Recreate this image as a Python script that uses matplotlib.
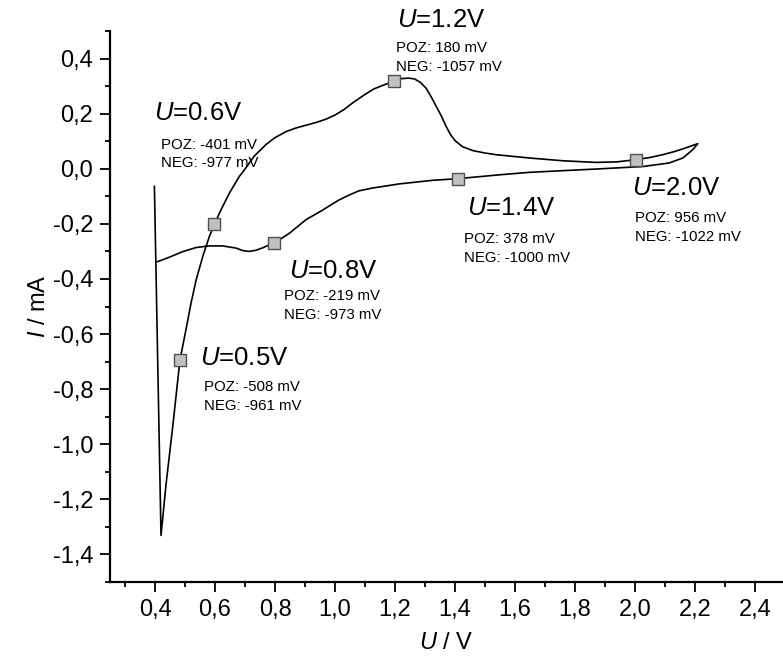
import numpy as np
import matplotlib.pyplot as plt
from matplotlib.ticker import FixedLocator, MultipleLocator, FuncFormatter

plt.rcParams['font.family'] = ['Liberation Sans', 'DejaVu Sans']
plt.rcParams['mathtext.fontset'] = 'custom'
plt.rcParams['mathtext.rm'] = 'Liberation Sans'
plt.rcParams['mathtext.it'] = 'Liberation Sans:italic'

# CV loop (U in V, I in mA)
u_curve = [0.398, 0.420, 0.437, 0.459, 0.483, 0.503, 0.520, 0.537, 0.559, 0.581,
           0.598, 0.620, 0.648, 0.681, 0.698, 0.730, 0.770, 0.800, 0.837, 0.870,
           0.900, 0.937, 0.970, 1.000, 1.030, 1.060, 1.100, 1.130, 1.160, 1.198,
           1.220, 1.245, 1.265, 1.285, 1.303, 1.320, 1.337, 1.355, 1.370, 1.385,
           1.400, 1.425, 1.459, 1.500, 1.537, 1.648, 1.759, 1.870, 1.940, 2.003,
           2.050, 2.092, 2.130, 2.159, 2.185, 2.209,
           2.192, 2.159, 2.114, 2.025, 1.870, 1.648, 1.548, 1.409, 1.325, 1.214,
           1.125, 1.080, 1.048, 1.014, 0.985, 0.959, 0.930, 0.903, 0.875, 0.848,
           0.820, 0.795, 0.775, 0.759, 0.736, 0.714, 0.692, 0.670, 0.625, 0.581,
           0.537, 0.492, 0.448, 0.409]
i_curve = [-0.064, -1.331, -1.143, -0.937, -0.695, -0.585, -0.488, -0.404, -0.319, -0.246,
           -0.201, -0.149, -0.088, -0.028, -0.004, 0.045, 0.088, 0.113, 0.135, 0.148,
           0.157, 0.168, 0.180, 0.195, 0.215, 0.240, 0.270, 0.290, 0.303, 0.318,
           0.327, 0.329, 0.326, 0.313, 0.293, 0.262, 0.227, 0.190, 0.154, 0.124,
           0.102, 0.080, 0.066, 0.057, 0.051, 0.039, 0.029, 0.023, 0.025, 0.033,
           0.041, 0.051, 0.062, 0.072, 0.082, 0.091,
           0.069, 0.039, 0.021, 0.008, -0.001, -0.013, -0.022, -0.036, -0.042, -0.055,
           -0.070, -0.080, -0.095, -0.113, -0.132, -0.150, -0.168, -0.185, -0.210, -0.234,
           -0.254, -0.268, -0.279, -0.287, -0.296, -0.300, -0.297, -0.288, -0.280, -0.280,
           -0.286, -0.301, -0.321, -0.337]

# marked points
u_marks = [0.483, 0.598, 0.795, 1.198, 1.409, 2.003]
i_marks = [-0.695, -0.200, -0.268, 0.318, -0.036, 0.033]

titles = ['$U$=0.5V', '$U$=0.6V', '$U$=0.8V', '$U$=1.2V', '$U$=1.4V', '$U$=2.0V']
poz = ['-508', '-401', '-219', '180', '378', '956']
neg = ['-961', '-977', '-973', '-1057', '-1000', '-1022']

fig = plt.figure(figsize=(7.83, 6.68), dpi=100)
ax = fig.add_axes([110/783, 86/668, 673/783, 551/668])
ax.plot(u_curve, i_curve, color='black', lw=1.2)
ax.plot(u_marks, i_marks, ls='none', marker='s', ms=8.5,
        mfc='#c0c0c0', mec='#505050', mew=1.0)

# label positions (title, POZ, NEG baselines) in data coords
title_xy = [(0.550, -0.713), (0.398, 0.178), (0.848, -0.396),
            (1.208, 0.513), (1.441, -0.167), (1.991, -0.095)]
sub_xy = [(0.562, -0.806), (0.420, 0.073), (0.831, -0.476),
          (1.203, 0.422), (1.431, -0.269), (2.001, -0.193)]
for k in range(len(titles)):
    tx, ty = title_xy[k]
    sx, sy = sub_xy[k]
    ax.text(tx, ty, titles[k], fontsize=18.5, va='baseline', ha='left')
    ax.text(sx, sy, 'POZ: %s mV' % poz[k], fontsize=10.8, va='baseline', ha='left')
    ax.text(sx, sy - 0.068, 'NEG: %s mV' % neg[k], fontsize=10.8, va='baseline', ha='left')

ax.set_xlim(0.25, 2.493)
ax.set_ylim(-1.5, 0.5)
ax.xaxis.set_major_locator(FixedLocator(np.round(np.arange(0.4, 2.41, 0.2), 1)))
ax.xaxis.set_minor_locator(MultipleLocator(0.1))
ax.yaxis.set_major_locator(FixedLocator(np.round(np.arange(-1.4, 0.41, 0.2), 1)))
ax.yaxis.set_minor_locator(MultipleLocator(0.1))
comma = FuncFormatter(lambda v, p: ('%.1f' % (round(v, 1) + 0.0)).replace('.', ','))
ax.xaxis.set_major_formatter(comma)
ax.yaxis.set_major_formatter(comma)

ax.spines['top'].set_visible(False)
ax.spines['right'].set_visible(False)
ax.spines['left'].set_linewidth(1.6)
ax.spines['bottom'].set_linewidth(1.6)
ax.tick_params(which='major', direction='out', length=7, width=1.3, labelsize=17, pad=5)
ax.tick_params(which='minor', direction='out', length=3.5, width=1.3)

ax.set_xlabel('$U$ / V', fontsize=17, labelpad=8)
ax.set_ylabel('$I$ / mA', fontsize=17, labelpad=2)

plt.savefig('out.png', dpi=100)
